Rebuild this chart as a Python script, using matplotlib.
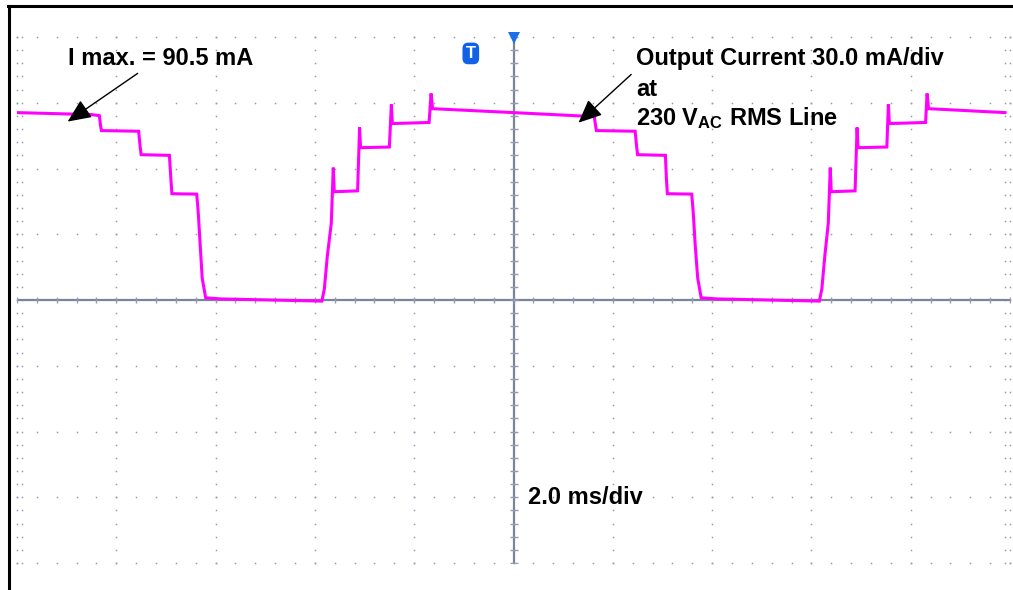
"""Scope capture: output current at 230 VAC, 2 ms/div, 30 mA/div."""
import matplotlib
matplotlib.use('Agg')
import matplotlib.pyplot as plt
from matplotlib.lines import Line2D
import numpy as np

plt.rcParams.update({
    'font.family': ['Liberation Sans', 'DejaVu Sans'],
    'mathtext.fontset': 'custom',
    'mathtext.rm': 'Liberation Sans:bold',
    'mathtext.bf': 'Liberation Sans:bold',
    'mathtext.it': 'Liberation Sans:bold',
})

# scope settings
ms_per_div = 2.0
ma_per_div = 30.0
n_xdiv, n_ydiv = 10, 8

# trace breakpoints (time in ms from trigger, current in mA)
t_ms = [-10.0, -8.5, -8.34, -8.32, -8.30, -7.55, -7.52, -7.50, -6.93, -6.90,
        -6.88, -6.38, -6.35, -6.31, -6.27, -6.20, -5.90, -3.86, -3.81, -3.75,
        -3.67, -3.63, -3.61, -3.14, -3.10, -3.08, -2.50, -2.46, -2.44, -1.70,
        -1.66, -1.63, 0.0, 1.60, 1.63, 1.65, 1.67, 2.45, 2.48, 2.50,
        3.06, 3.08, 3.10, 3.59, 3.62, 3.66, 3.71, 3.78, 4.10, 6.16,
        6.21, 6.27, 6.34, 6.38, 6.40, 6.88, 6.92, 6.94, 7.52, 7.55,
        7.57, 8.30, 8.33, 8.36, 9.90]
i_ma = [85.5, 84.6, 84.1, 80.0, 77.3, 77.0, 70.0, 66.3, 66.0, 55.0,
        48.5, 48.3, 40.0, 25.0, 10.0, 1.0, 0.5, -0.5, 5.0, 20.0,
        35.0, 60.4, 49.4, 49.8, 78.7, 69.5, 69.8, 89.2, 80.5, 81.0,
        94.2, 87.3, 85.5, 83.7, 83.3, 80.0, 77.3, 77.0, 70.0, 66.3,
        66.0, 55.0, 48.5, 48.3, 40.0, 25.0, 10.0, 1.0, 0.5, -0.5,
        5.0, 20.0, 35.0, 60.4, 49.4, 49.8, 78.7, 69.5, 69.8, 89.2,
        80.5, 81.0, 94.2, 87.3, 85.5]

W, H = 1013, 590
fig = plt.figure(figsize=(W / 100, H / 100), dpi=100)
fig.patch.set_facecolor('white')

# graticule area in pixels: x 17..1010, y 37..563 (from top)
ax = fig.add_axes([17 / W, 1 - 563 / H, (1010 - 17) / W, (563 - 37) / H])
xmax = n_xdiv / 2 * ms_per_div
ymax = n_ydiv / 2 * ma_per_div
ax.set_xlim(-xmax, xmax)
ax.set_ylim(-ymax, ymax)
ax.axis('off')

grid_col = '#959cb2'
dot = dict(ls='none', marker='s', ms=1.1, mew=0, color=grid_col,
           clip_on=False, zorder=1)
# dotted graticule
xmaj = np.linspace(-xmax, xmax, n_xdiv + 1)
ymaj = np.linspace(-ymax, ymax, n_ydiv + 1)
xmin = np.linspace(-xmax, xmax, n_xdiv * 5 + 1)
ymin = np.linspace(-ymax, ymax, n_ydiv * 5 + 1)
for x in xmaj:
    ax.plot(np.full_like(ymin, x), ymin, **dot)
for y in ymaj:
    ax.plot(xmin, np.full_like(xmin, y), **dot)
# edge ticks
ax.plot(np.full_like(ymin, -xmax + 0.1), ymin, **dot)
ax.plot(np.full_like(ymin, xmax - 0.1), ymin, **dot)

# centre axes with tick dashes
ax.axvline(0, color='#7b8599', lw=1.6, zorder=2)
ax.axhline(0, color='#7b8599', lw=1.6, zorder=2)
ax.plot(np.zeros_like(ymin), ymin, ls='none', marker='_', ms=6, mew=1.0,
        color=grid_col, zorder=2)
ax.plot(xmin, np.zeros_like(xmin), ls='none', marker='|', ms=5, mew=1.0,
        color=grid_col, zorder=2)

# trace
ax.plot(t_ms, i_ma, color='#ff00ff', lw=2.2, zorder=3,
        solid_joinstyle='miter')

# trigger markers
ax.plot([0], [ymax - 0.5], marker='v', ms=8, color='#1a6fe8', mew=0,
        clip_on=False, zorder=4)
ax.text(-0.86, 112.5, 'T', color='white', fontsize=12, fontweight='bold',
        ha='center', va='center', zorder=4,
        bbox=dict(boxstyle='round,pad=0.2,rounding_size=0.35',
                  fc='#1060e8', ec='none'))

# annotations
fs = 17
ax.text(-8.98, 107.0, 'I max. = 90.5 mA', fontsize=fs, fontweight='bold',
        va='baseline', ha='left', zorder=5)
ax.text(2.47, 107.0, 'Output Current 30.0 mA/div', fontsize=fs,
        fontweight='bold', va='baseline', ha='left', zorder=5)
ax.text(2.47, 93.3, 'at', fontsize=fs, fontweight='bold', va='baseline',
        ha='left', zorder=5)
ax.text(2.47, 80.0, r'230 V$_{\mathrm{AC}}$ RMS Line', fontsize=fs,
        fontweight='bold', va='baseline', ha='left', zorder=5)
ax.text(0.30, -93.3, '2.0 ms/div', fontsize=fs, fontweight='bold',
        va='baseline', ha='left', zorder=5)

arrow = dict(arrowstyle='-|>,head_length=0.9,head_width=0.4',
             mutation_scale=16, color='black', lw=1.0, shrinkA=0, shrinkB=0)
ax.annotate('', xy=(-8.98, 81.4), xytext=(-7.57, 103.4), arrowprops=arrow,
            zorder=5)
ax.annotate('', xy=(1.31, 80.9), xytext=(2.37, 102.9), arrowprops=arrow,
            zorder=5)

# black frame (left and top edges)
fig.add_artist(Line2D([8.5 / W, 8.5 / W], [0, 1 - 6 / H],
                      transform=fig.transFigure, color='black', lw=2.2))
fig.add_artist(Line2D([7.5 / W, 1], [1 - 6 / H, 1 - 6 / H],
                      transform=fig.transFigure, color='black', lw=2.2))

fig.savefig('out.png', dpi=100)
print("Done: out.png")
